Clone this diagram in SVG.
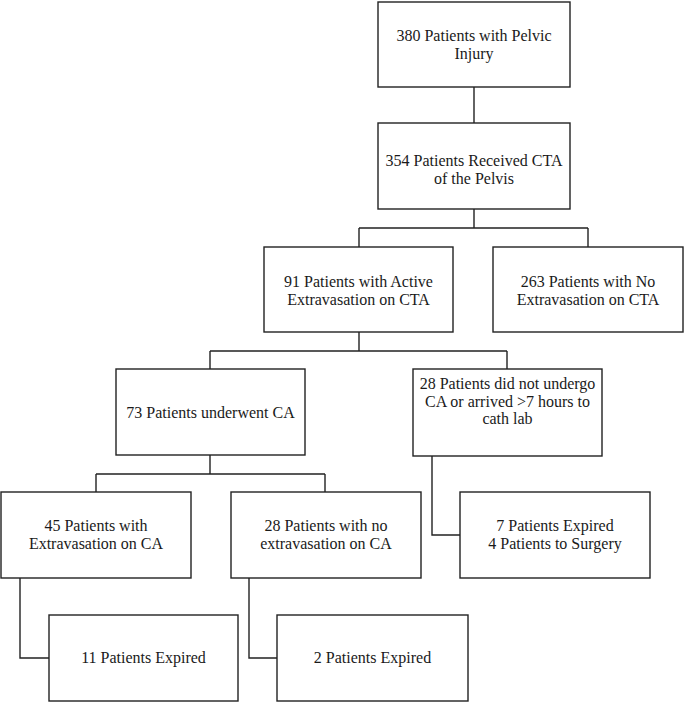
<svg xmlns="http://www.w3.org/2000/svg" width="685" height="703" viewBox="0 0 685 703">
<style>
rect{fill:#fff;stroke:#222;stroke-width:1.4}
.c path{fill:none;stroke:#222;stroke-width:1.4}
text{font-family:"Liberation Serif",serif;font-size:16px;fill:#1a1a1a;text-anchor:middle}
</style>
<rect x="0" y="0" width="685" height="703" style="fill:#fff;stroke:none"/>
<g class="c" id="connectors">
<path d="M474 87V123"/>
<path d="M474 209V228M359 228H588M359 228V247M588 228V247"/>
<path d="M359 332V351M210 351H507M210 351V369M507 351V369"/>
<path d="M210 455V474M96 474H325M96 474V492M325 474V492"/>
<path d="M432 456V535H460"/>
<path d="M20 578V658H49"/>
<path d="M249 578V658H277"/>
</g>
<g id="n1"><rect x="378" y="2" width="192" height="85"/><text x="474" y="41">380 Patients with Pelvic</text><text x="474" y="59">Injury</text></g>
<g id="n2"><rect x="378" y="123" width="192" height="86"/><text x="474" y="165.5">354 Patients Received CTA</text><text x="474" y="183.5">of the Pelvis</text></g>
<g id="n3"><rect x="264" y="247" width="189" height="85"/><text x="358.5" y="286.5">91 Patients with Active</text><text x="358.5" y="304.5">Extravasation on CTA</text></g>
<g id="n4"><rect x="493" y="247" width="190" height="85"/><text x="588" y="286.5">263 Patients with No</text><text x="588" y="304.5">Extravasation on CTA</text></g>
<g id="n5"><rect x="116" y="369" width="189" height="86"/><text x="210.5" y="418">73 Patients underwent CA</text></g>
<g id="n6"><rect x="413" y="369" width="189" height="87"/><text x="507.5" y="389">28 Patients did not undergo</text><text x="507.5" y="406.5">CA or arrived &gt;7 hours to</text><text x="507.5" y="424">cath lab</text></g>
<g id="n7"><rect x="460" y="492" width="190" height="86"/><text x="555" y="530.5">7 Patients Expired</text><text x="555" y="548.5">4 Patients to Surgery</text></g>
<g id="n8"><rect x="1" y="492" width="190" height="86"/><text x="96" y="531">45 Patients with</text><text x="96" y="549">Extravasation on CA</text></g>
<g id="n9"><rect x="231" y="492" width="190" height="86"/><text x="326" y="531">28 Patients with no</text><text x="326" y="549">extravasation on CA</text></g>
<g id="n10"><rect x="49" y="615" width="189" height="86"/><text x="143.5" y="663">11 Patients Expired</text></g>
<g id="n11"><rect x="277" y="615" width="191" height="86"/><text x="372.5" y="663">2 Patients Expired</text></g>
</svg>
